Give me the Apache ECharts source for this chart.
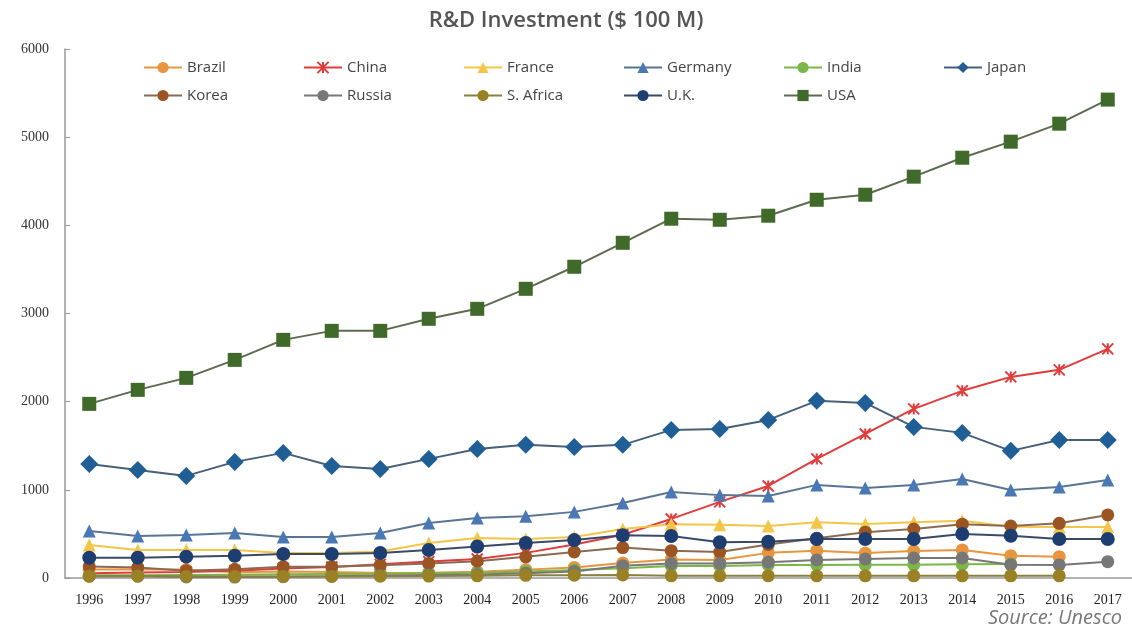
<!DOCTYPE html>
<html>
<head>
<meta charset="utf-8">
<script src="https://cdn.jsdelivr.net/npm/echarts@6/dist/echarts.min.js"></script>
<style>
  html, body { margin: 0; padding: 0; background: #fff; }
  #chart { width: 1132px; height: 630px; }
</style>
</head>
<body>
<div id="chart"></div>
<script>
const years = ['1996', '1997', '1998', '1999', '2000', '2001', '2002', '2003', '2004', '2005', '2006',
  '2007', '2008', '2009', '2010', '2011', '2012', '2013', '2014', '2015', '2016', '2017']

// R&D investment, $100M
const brazil = [95, 100, 95, 65, 75, 68, 57, 60, 70, 95, 120, 170, 210, 205, 285, 310, 283, 306, 318, 253, 242, null]
const china = [55, 62, 68, 82, 108, 125, 155, 186, 215, 285, 380, 490, 670, 863, 1044, 1351, 1634, 1918, 2123, 2281, 2361, 2599]
const france = [374, 318, 318, 318, 284, 284, 300, 397, 454, 443, 465, 556, 610, 605, 590, 632, 613, 632, 650, 582, 579, 579]
const germany = [533, 477, 488, 511, 465, 465, 511, 624, 680, 700, 750, 850, 975, 940, 931, 1056, 1022, 1056, 1124, 999, 1033, 1112]
const india = [30, 32, 35, 38, 42, 45, 48, 55, 60, 75, 90, 110, 136, 136, 148, 148, 150, 150, 155, 160, null, null]
const japan = [1294, 1226, 1158, 1317, 1419, 1271, 1237, 1351, 1464, 1510, 1487, 1510, 1680, 1691, 1793, 2009, 1986, 1714, 1646, 1442, 1566, 1566]
const korea = [130, 120, 82, 98, 128, 128, 145, 165, 190, 240, 295, 345, 310, 295, 380, 450, 520, 555, 610, 590, 620, 715]
const russia = [20, 22, 12, 10, 15, 20, 28, 35, 40, 55, 75, 140, 165, 165, 180, 205, 216, 227, 227, 150, 148, 185]
const safrica = [20, 20, 18, 18, 18, 18, 20, 22, 25, 30, 32, 35, 25, 25, 25, 25, 25, 25, 25, 25, 25, null]
const uk = [230, 231, 242, 253, 272, 272, 284, 318, 356, 397, 430, 485, 477, 405, 412, 443, 443, 443, 499, 480, 443, 443]
const usa = [1975, 2134, 2270, 2474, 2701, 2803, 2803, 2940, 3053, 3280, 3530, 3802, 4075, 4063, 4109, 4290, 4347, 4552, 4767, 4949, 5153, 5426]

const yTicks = { min: 0, max: 6000, interval: 1000 }

const star = 'path://M0,0L10,10M10,0L0,10M5,0L5,10'

function line(name, data, color, symbol, size, lineColor) {
  return {
    name,
    type: 'line',
    data,
    symbol,
    symbolSize: size,
    showSymbol: true,
    connectNulls: false,
    lineStyle: { color: lineColor || color, width: 2 },
    itemStyle: { color },
  }
}

const chart = echarts.init(document.getElementById('chart'))

const series = [
  line('Brazil', brazil, '#e8953f', 'circle', 13),
  {
    ...line('China', china, '#e03c3c', star, 11),
    itemStyle: { color: 'rgba(0,0,0,0)', borderColor: '#e03c3c', borderWidth: 2 },
  },
  line('France', france, '#f3c64a', 'triangle', 13),
  line('Germany', germany, '#4a78b5', 'triangle', 13, '#5a7593'),
  line('India', india, '#7ab648', 'circle', 13),
  line('Japan', japan, '#1f5f96', 'diamond', 18, '#46607a'),
  line('Korea', korea, '#9a5522', 'circle', 13, '#8a6a52'),
  line('Russia', russia, '#777777', 'circle', 13),
  line('S. Africa', safrica, '#9a8124', 'circle', 13, '#8a8040'),
  line('U.K.', uk, '#1e3e72', 'circle', 14, '#3a4a66'),
  line('USA', usa, '#3f6a2a', 'rect', 14, '#5c6b50'),
]

// one legend per entry so the two rows line up in columns
const legends = series.map((s, i) => ({
  left: 143 + (i % 6) * 160,
  top: i < 6 ? 60 : 88,
  itemWidth: 38,
  itemHeight: 14,
  padding: 0,
  textStyle: { fontFamily: 'Open Sans', fontSize: 15, color: '#444' },
  data: [s.name],
}))

chart.setOption({
  animation: false,
  title: {
    text: 'R&D Investment ($ 100 M)',
    left: 'center',
    top: 5,
    textStyle: { fontFamily: 'Open Sans', fontSize: 22, fontWeight: 600, color: '#555' },
  },
  legend: legends,
  grid: { left: 65, top: 49, bottom: 52, width: 1073 },
  xAxis: {
    type: 'category',
    data: years,
    boundaryGap: true,
    axisLine: { lineStyle: { color: '#999', width: 1.5 } },
    axisTick: { inside: true, length: 5, lineStyle: { color: '#999' } },
    axisLabel: { fontFamily: 'Liberation Serif', fontSize: 14, color: '#222', margin: 15 },
  },
  yAxis: {
    type: 'value',
    ...yTicks,
    axisLine: { show: true, lineStyle: { color: '#999', width: 1.5 } },
    axisTick: { show: true, inside: true, length: 5, lineStyle: { color: '#999' } },
    splitLine: { show: false },
    axisLabel: {
      fontFamily: 'Liberation Serif', fontSize: 14, color: '#333', margin: 16,
      formatter: (v) => String(v),
    },
  },
  graphic: [
    {
      type: 'text',
      left: 988,
      top: 608,
      style: { text: 'Source: Unesco', font: 'italic 20px "Open Sans"', fill: '#777' },
    },
  ],
  series,
})
</script>
</body>
</html>
